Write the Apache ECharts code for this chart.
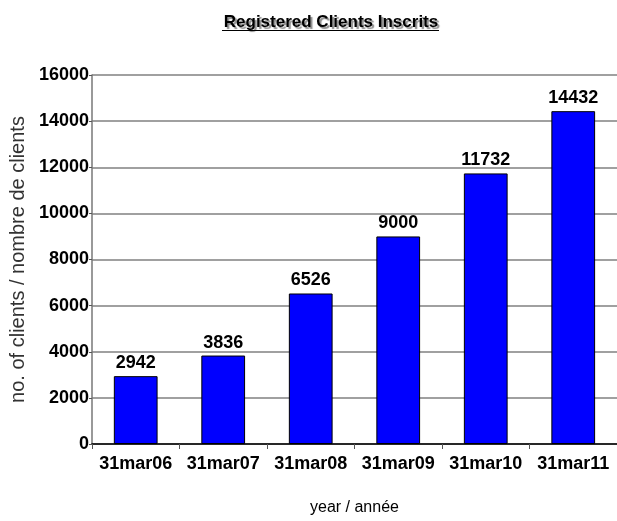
<!DOCTYPE html>
<html>
<head>
<meta charset="utf-8">
<script src="https://cdn.jsdelivr.net/npm/echarts@6/dist/echarts.min.js"></script>
<style>html,body{margin:0;padding:0;background:#fff}#c{width:617px;height:521px}</style>
</head>
<body>
<div id="c"></div>
<script>
var categories = ['31mar06', '31mar07', '31mar08', '31mar09', '31mar10', '31mar11'];
var clients = [2942, 3836, 6526, 9000, 11732, 14432];
var titleText = 'Registered Clients Inscrits';
var yName = 'no. of clients / nombre de clients';
var xName = 'year / année';

var chart = echarts.init(document.getElementById('c'), null, {renderer: 'canvas'});
var F = '"Liberation Sans", Arial, sans-serif';
chart.setOption({
  animation: false,
  title: {
    text: titleText, left: 326, top: 9, textAlign: 'center',
    textStyle: {fontFamily: F, fontSize: 17, fontWeight: 'bold', color: '#000',
      textShadowColor: 'rgba(0,0,0,0.45)', textShadowOffsetX: 2, textShadowOffsetY: 2, textShadowBlur: 1}
  },
  graphic: [{type: 'line', shape: {x1: 222, y1: 30.5, x2: 439, y2: 30.5}, style: {stroke: '#000', lineWidth: 1}}],
  grid: {left: 89, top: 75, width: 530, height: 372},
  xAxis: {
    type: 'category', data: categories,
    name: xName, nameLocation: 'middle', nameGap: 56,
    nameTextStyle: {fontFamily: F, fontSize: 16, color: '#000', verticalAlign: 'top'},
    axisLine: {lineStyle: {color: '#000', width: 1.5}},
    axisTick: {show: true, length: 5, lineStyle: {color: '#555'}},
    axisLabel: {interval: 0, fontFamily: F, fontSize: 18, fontWeight: 'bold', color: '#000', margin: 11}
  },
  yAxis: {
    type: 'value', min: 0, max: 16000, interval: 2000,
    name: yName, nameLocation: 'middle', nameGap: 57, nameRotate: 90,
    nameTextStyle: {fontFamily: F, fontSize: 20, color: '#333'},
    axisLine: {show: true, lineStyle: {color: '#777', width: 1.5}},
    axisTick: {show: true, length: 3, lineStyle: {color: '#555'}},
    axisLabel: {formatter: function (v) { return String(v); }, fontFamily: F, fontSize: 18, fontWeight: 'bold', color: '#000', margin: 3},
    splitLine: {lineStyle: {color: '#808080', width: 1.5}}
  },
  series: [{
    type: 'bar', data: clients, barWidth: '50%',
    itemStyle: {color: '#0000ff', borderColor: '#000', borderWidth: 1},
    label: {show: true, position: 'top', distance: 4, fontFamily: F, fontSize: 18, fontWeight: 'bold', color: '#000'}
  }]
});
</script>
</body>
</html>
